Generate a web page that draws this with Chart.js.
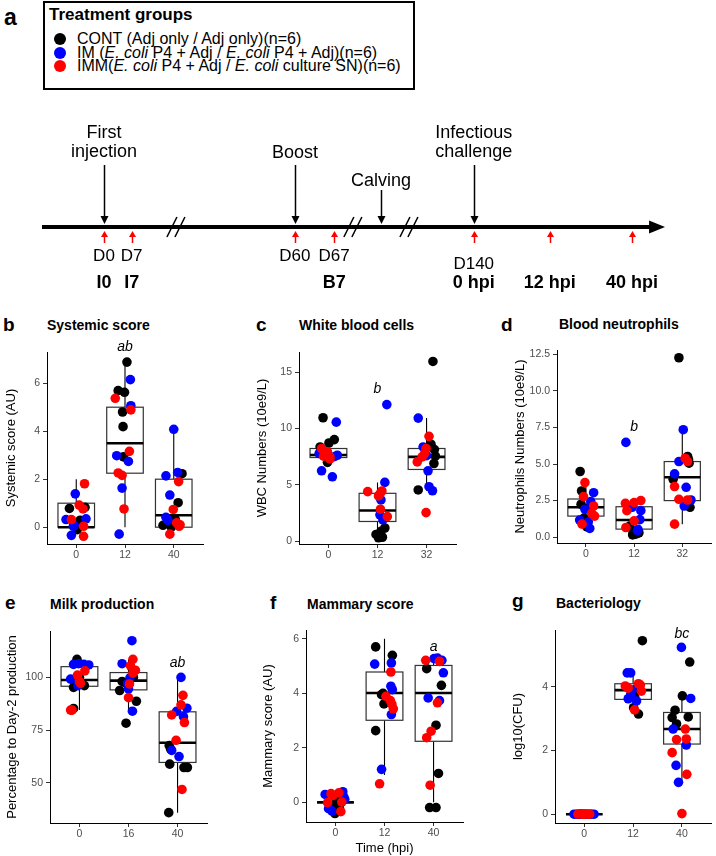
<!DOCTYPE html>
<html><head><meta charset="utf-8">
<script src="https://cdn.jsdelivr.net/npm/chart.js@4.4.1/dist/chart.umd.min.js"></script>
<style>
html,body{margin:0;padding:0;background:#fff;}
body{width:716px;height:856px;position:relative;overflow:hidden;font-family:'Liberation Sans',Arial,sans-serif;}
.t{position:absolute;white-space:nowrap;color:#000;}
canvas{position:absolute;}
.lbox{position:absolute;left:43px;top:1px;width:368px;height:85px;border:2px solid #000;}
.dot{position:absolute;width:12px;height:12px;border-radius:50%;}
</style></head><body>
<div class="lbox"></div>
<script>
// ---------------- DATA ----------------
// Panel a: legend
const groupNames = ['CONT (Adj only / Adj only)(n=6)',
  'IM (<i>E. coli</i> P4 + Adj / <i>E. coli</i> P4 + Adj)(n=6)',
  'IMM(<i>E. coli</i> P4 + Adj / <i>E. coli</i> culture SN)(n=6)'];
const groupColors = ['#000000','#0000ff','#ff0000'];
// Panel a: timeline (schematic positions, 0-100)
const tlAxisX = [0, 97.6];
const tlEventX = [9.95, 40.6, 54.4, 69.3];
const tlEventLabels = [['First','injection'],['Boost'],['Calving'],['Infectious','challenge']];
const tlSampleX = [9.95, 14.4, 40.6, 46.9, 69.3, 81.5, 94.7];
const tlDayLabels = ['D0','D7','D60','D67','D140','',''];
const tlPhaseLabels = ['I0','I7','','B7','0 hpi','12 hpi','40 hpi'];
const tlBreakX = [21.5, 49.9, 58.9];

// Panel b: Systemic score
const sysCats = ['0','12','40'];
const sysTicks = [0,2,4,6];
const sysCont = [[0.86,0.78],[1.18,0.83],[1.08,0.29],[0.95,0.10],[1.02,-0.10],[1.10,0.20],[2.04,6.88],[1.86,5.69],[1.99,5.62],[1.95,4.80],[1.96,4.19],[1.97,2.93],[3.17,2.23],[3.09,1.02],[3.02,0.36],[2.78,0.08],[3.03,0.30],[2.95,0.00]];
const sysIM = [[0.98,1.39],[0.79,0.32],[1.20,0.35],[0.94,0.04],[0.90,-0.34],[0.96,0.08],[2.11,6.15],[2.12,5.06],[1.83,2.98],[2.07,2.74],[1.94,1.63],[1.88,-0.29],[3.00,4.08],[2.84,2.14],[3.08,2.28],[2.92,1.34],[2.84,0.41],[2.88,0.29]];
const sysIMM = [[1.17,1.81],[1.06,0.92],[1.14,0.76],[0.90,0.32],[1.15,0.04],[1.15,-0.38],[1.80,5.37],[2.12,4.89],[2.09,3.16],[1.86,2.26],[1.94,2.16],[1.98,0.76],[3.10,1.90],[2.99,0.74],[3.06,0.18],[3.11,0.04],[2.92,-0.29],[3.13,0.10]];
const sysQ1 = [0, 2.25, 0], sysMed = [0, 3.5, 0.5], sysQ3 = [1, 5, 2], sysLo = [0, 0, 0], sysHi = [2, 7, 4];
const sysSig = ['', 'ab', ''], sysSigY = 7.34;

// Panel c: White blood cells
const wbcCats = ['0','12','32'];
const wbcTicks = [0,5,10,15];
const wbcCont = [[0.89,10.96],[1.12,9.02],[1.01,8.72],[0.83,8.37],[0.99,7.28],[0.98,7.0],[2.15,1.17],[2.07,0.87],[2.01,0.49],[2.02,0.30],[1.97,0.60],[2.10,0.35],[3.13,15.96],[3.09,8.61],[3.16,8.14],[3.18,7.55],[3.15,6.90],[2.83,4.55]];
const wbcIM = [[1.16,10.57],[0.81,7.78],[1.18,7.63],[0.86,6.25],[1.08,5.72],[1.12,7.5],[2.19,12.13],[2.15,5.22],[2.07,3.66],[2.05,2.34],[2.13,2.05],[2.11,1.9],[2.83,10.93],[2.93,8.37],[3.03,6.25],[3.05,4.84],[3.12,4.48],[3.0,7.6]];
const wbcIMM = [[0.86,8.23],[0.98,7.93],[0.90,7.55],[1.03,7.49],[0.93,7.7],[1.03,7.3],[1.80,4.40],[2.09,4.46],[2.05,4.19],[2.02,4.02],[2.06,2.84],[2.20,2.19],[3.05,9.31],[2.99,8.23],[2.96,7.78],[2.91,7.49],[2.81,7.04],[2.99,2.54]];
const wbcQ1 = [7.43, 1.75, 6.37], wbcMed = [7.66, 2.72, 7.49], wbcQ3 = [8.23, 4.25, 8.23], wbcLo = [6.6, 0.3, 4.48], wbcHi = [9.0, 5.22, 10.93];
const wbcSig = ['', 'b', ''], wbcSigY = 13.2;

// Panel d: Blood neutrophils
const neuCats = ['0','12','32'];
const neuTicks = [0,2.5,5,7.5,10,12.5];
const neuCont = [[0.88,4.49],[0.91,3.16],[0.90,2.25],[1.05,2.0],[0.96,1.3],[1.02,0.7],[1.91,0.76],[1.98,0.36],[2.06,0.25],[1.97,0.15],[2.03,0.2],[2.1,0.3],[2.93,12.27],[3.11,5.52],[3.14,5.06],[2.81,3.96],[3.16,2.04],[3.13,5.3]];
const neuIM = [[1.16,3.04],[1.10,2.43],[0.98,1.90],[0.87,1.17],[1.05,1.05],[1.08,0.60],[1.83,6.48],[1.96,2.04],[2.14,1.81],[2.08,0.53],[2.12,1.2],[2.07,0.45],[3.02,7.35],[2.93,5.17],[2.84,4.33],[3.08,3.41],[3.18,2.54],[3.04,2.13]];
const neuIMM = [[0.98,3.73],[0.95,2.77],[1.16,2.13],[1.12,1.63],[1.18,1.44],[0.92,0.89],[1.82,2.31],[2.0,2.36],[2.14,2.5],[1.85,1.81],[2.0,1.12],[1.83,0.66],[3.06,5.4],[3.11,5.17],[2.84,3.46],[2.93,2.59],[3.11,2.54],[2.84,0.89]];
const neuQ1 = [1.44, 0.55, 2.5], neuMed = [2.04, 1.17, 4.1], neuQ3 = [2.61, 2.08, 5.17], neuLo = [0.6, 0.15, 0.89], neuHi = [3.73, 2.5, 7.35];
const neuSig = ['', 'b', ''], neuSigY = 7.23;

// Panel e: Milk production
const milkCats = ['0','16','40'];
const milkTicks = [50,75,100];
const milkCont = [[0.95,108.6],[0.88,95.3],[1.10,96.1],[0.88,85.3],[1.0,100],[0.95,97],[1.87,98.1],[1.82,93.8],[2.16,88.7],[1.95,78.3],[1.93,97.5],[2.1,100],[2.83,67.7],[2.84,58.9],[3.13,57.3],[3.20,57.3],[2.82,35.9],[2.86,66]];
const milkIM = [[0.88,106.2],[0.98,106.5],[1.09,106.2],[1.19,105.9],[0.82,99.2],[0.97,96.1],[2.07,117.4],[1.87,106.5],[2.0,94.6],[2.08,84.0],[2.03,99.8],[1.98,97],[3.07,100],[3.19,85.4],[2.98,83.9],[3.12,81.4],[2.88,65.4],[3.03,62.5]];
const milkIMM = [[1.11,103.1],[0.96,101.1],[1.0,98.1],[1.02,97.2],[0.85,84.5],[0.82,84.5],[2.09,108.6],[2.04,105.5],[2.14,103.4],[2.09,102.0],[2.02,96.9],[2.0,90.4],[3.11,91.5],[3.07,87.0],[2.88,82.2],[3.14,78.6],[2.97,70.2],[3.09,46.9]];
const milkQ1 = [95.8, 94.1, 59.7], milkMed = [98.8, 98.5, 69], milkQ3 = [105.1, 102.3, 83.7], milkLo = [84.5, 84, 35.9], milkHi = [108.6, 108.6, 100];
const milkSig = ['', '', 'ab'], milkSigY = 105;

// Panel f: Mammary score
const mamCats = ['0','12','40'];
const mamTicks = [0,2,4,6];
const mamCont = [[1.01,0.15],[0.99,-0.41],[1.05,0.05],[0.97,-0.1],[1.0,0.2],[1.08,-0.2],[1.82,5.70],[2.16,5.39],[1.94,3.95],[1.99,3.61],[1.82,2.63],[1.97,4.0],[2.86,4.9],[3.16,4.29],[3.05,2.83],[3.10,1.06],[2.92,-0.19],[3.05,-0.19]];
const mamIM = [[0.79,0.29],[1.15,0.39],[1.19,0.11],[0.86,-0.23],[0.93,-0.32],[1.17,0.2],[1.80,5.07],[2.14,5.11],[2.13,4.26],[2.16,4.13],[2.14,3.22],[1.94,1.21],[3.01,5.27],[3.08,5.29],[3.17,5.21],[3.20,4.75],[2.89,3.83],[3.12,3.73]];
const mamIMM = [[0.91,0.32],[1.07,0.35],[0.84,-0.01],[1.13,0.01],[1.11,-0.34],[0.95,0.25],[2.13,4.78],[2.03,3.89],[2.12,3.73],[2.18,3.43],[1.90,0.68],[2.15,3.6],[2.84,5.21],[3.12,5.17],[3.08,3.65],[2.95,2.61],[2.86,2.37],[2.93,0.63]];
const mamQ1 = [0, 3.01, 2.24], mamMed = [0, 4.01, 4.01], mamQ3 = [0, 4.78, 5.02], mamLo = [0, 1.0, 0], mamHi = [0, 6, 5.25];
const mamSig = ['', '', 'a'], mamSigY = 5.54;

// Panel g: Bacteriology
const bacCats = ['0','12','40'];
const bacTicks = [0,2,4];
const bacCont = [[0.88,0],[0.93,0],[1.0,0],[1.06,0],[1.12,0],[0.96,0],[2.19,5.44],[2.03,3.7],[2.01,3.34],[2.11,3.14],[2.0,3.8],[2.08,3.95],[3.16,4.77],[3.01,3.71],[2.86,3.26],[2.80,3.03],[3.13,3.05],[2.89,2.83]];
const bacIM = [[0.79,0],[0.84,0],[0.91,0],[1.2,0],[1.15,0],[1.03,0],[1.88,4.43],[1.95,4.43],[1.98,3.89],[1.90,3.62],[2.07,3.55],[1.95,3.75],[2.99,5.23],[3.18,3.63],[2.82,2.67],[3.09,2.17],[2.88,1.53],[2.93,1.0]];
const bacIMM = [[0.87,0],[0.95,0],[0.99,0],[1.07,0],[1.11,0],[1.0,0],[1.84,4.02],[2.11,4.09],[2.17,3.86],[2.03,3.27],[1.9,3.95],[2.15,4.05],[3.07,2.67],[2.89,2.34],[3.09,2.36],[2.80,1.93],[3.0,0.02],[3.1,1.25]];
const bacQ1 = [0, 3.6, 2.2], bacMed = [0, 3.89, 2.67], bacQ3 = [0, 4.09, 3.19], bacLo = [0, 3.14, 1.0], bacHi = [0, 4.43, 3.71];
const bacSig = ['', '', 'bc'], bacSigY = 5.52;

// ---------------- RENDERING ----------------
const FONT = "'Liberation Sans', Arial, sans-serif";
Chart.defaults.font.family = FONT;

function txt(s, x, base, size, o) {
  o = o || {};
  const d = document.createElement('div');
  d.className = 't';
  d.innerHTML = s;
  d.style.fontSize = size + 'px';
  d.style.lineHeight = size + 'px';
  d.style.top = (base - 0.8465 * size) + 'px';
  d.style.left = x + 'px';
  if (o.bold) d.style.fontWeight = 'bold';
  if (o.italic) d.style.fontStyle = 'italic';
  if (o.center) d.style.transform = 'translateX(-50%)';
  document.body.appendChild(d);
  return d;
}
function mk(x, y, w, h) {
  const c = document.createElement('canvas');
  c.width = w; c.height = h;
  c.style.left = x + 'px'; c.style.top = y + 'px';
  c.style.width = w + 'px'; c.style.height = h + 'px';
  document.body.appendChild(c);
  return c;
}

// Legend box of panel a
txt('a', 4, 25, 23, {bold: true});
txt('Treatment groups', 49, 20.7, 17, {bold: true});
const legendBase = [45, 58.3, 71.7];
groupNames.forEach((g, i) => {
  const d = document.createElement('div');
  d.className = 'dot';
  d.style.background = groupColors[i];
  d.style.left = '54px';
  d.style.top = (legendBase[i] - 5.7 - 6) + 'px';
  document.body.appendChild(d);
  txt(g, 77, legendBase[i], 16);
});

// Timeline
const TL_LEFT = 0, TL_TOP = 100;
const tlEventTextBase = [-88.7, -68.7, -41, -88.7];
const tlEventArrowTop = [-62, -62, -37, -62];
const tlDayBase = [34.7, 34.7, 34.7, 34.7, 42, 34.7, 34.7];
const tlPhaseBase = 61;

function arrow(ctx, x, yFrom, yTo, color, lw, hl, hw) {
  ctx.strokeStyle = color; ctx.fillStyle = color; ctx.lineWidth = lw;
  const dir = yTo > yFrom ? 1 : -1;
  ctx.beginPath(); ctx.moveTo(x, yFrom); ctx.lineTo(x, yTo - dir * hl * 0.8); ctx.stroke();
  ctx.beginPath(); ctx.moveTo(x, yTo); ctx.lineTo(x - hw, yTo - dir * hl); ctx.lineTo(x + hw, yTo - dir * hl); ctx.closePath(); ctx.fill();
}

const timelinePlugin = {
  id: 'timeline',
  afterDatasetsDraw(chart) {
    const ctx = chart.ctx, xs = chart.scales.x, ys = chart.scales.y;
    const y0 = ys.getPixelForValue(0);
    ctx.save();
    ctx.fillStyle = '#000';
    ctx.beginPath();
    ctx.moveTo(xs.getPixelForValue(100), y0);
    ctx.lineTo(xs.getPixelForValue(tlAxisX[1]) - 1, y0 - 6.5);
    ctx.lineTo(xs.getPixelForValue(tlAxisX[1]) - 1, y0 + 6.5);
    ctx.closePath(); ctx.fill();
    ctx.strokeStyle = '#000'; ctx.lineWidth = 1.5;
    tlBreakX.forEach(b => {
      const c = xs.getPixelForValue(b);
      [-4, 4].forEach(dx => {
        ctx.beginPath(); ctx.moveTo(c + dx - 5, y0 + 10); ctx.lineTo(c + dx + 5, y0 - 10); ctx.stroke();
      });
    });
    tlEventX.forEach((v, i) => {
      arrow(ctx, Math.round(xs.getPixelForValue(v)) + 0.5, y0 + tlEventArrowTop[i], y0 - 3, '#000', 1.5, 8, 4);
    });
    tlSampleX.forEach(v => {
      arrow(ctx, Math.round(xs.getPixelForValue(v)) + 0.5, y0 + 16, y0 + 4, '#ff0000', 1.5, 6, 3.5);
    });
    ctx.restore();
  },
  afterRender(chart) {
    if (chart.$txtDone) return;
    chart.$txtDone = true;
    const xs = chart.scales.x, ys = chart.scales.y;
    const y0 = TL_TOP + ys.getPixelForValue(0);
    const px = v => TL_LEFT + xs.getPixelForValue(v);
    tlEventX.forEach((v, i) => {
      tlEventLabels[i].forEach((line, j) => {
        txt(line, px(v), y0 + tlEventTextBase[i] + j * 18.7, 18, {center: true});
      });
    });
    tlSampleX.forEach((v, i) => {
      if (tlDayLabels[i]) txt(tlDayLabels[i], px(v), y0 + tlDayBase[i], 17, {center: true});
      if (tlPhaseLabels[i]) txt(tlPhaseLabels[i], px(v), y0 + tlPhaseBase, 18, {center: true, bold: true});
    });
  }
};

new Chart(mk(TL_LEFT, TL_TOP, 716, 210), {
  type: 'scatter',
  data: {datasets: [{type: 'line', data: tlAxisX.map(x => ({x, y: 0})), borderColor: '#000', borderWidth: 4, pointRadius: 0, clip: false}]},
  options: {
    responsive: false, animation: false, events: [], devicePixelRatio: 1,
    layout: {padding: {left: 42, right: 51, top: 44, bottom: 0}},
    scales: {x: {type: 'linear', min: 0, max: 100, display: false}, y: {min: -1, max: 1, display: false}},
    plugins: {legend: {display: false}, tooltip: {enabled: false}}
  },
  plugins: [timelinePlugin]
});

// Box plot panels
function boxPlugin(cfg) {
  return {
    id: 'boxes',
    beforeDatasetsDraw(chart) {
      const ctx = chart.ctx, xs = chart.scales.x, ys = chart.scales.y;
      ctx.save();
      for (let i = 0; i < cfg.med.length; i++) {
        const c = xs.getPixelForValue(i + 1);
        const hw = xs.getPixelForValue(i + 1.375) - c;
        const yq1 = ys.getPixelForValue(cfg.q1[i]), yq3 = ys.getPixelForValue(cfg.q3[i]);
        const ym = ys.getPixelForValue(cfg.med[i]);
        const ylo = ys.getPixelForValue(cfg.lo[i]), yhi = ys.getPixelForValue(cfg.hi[i]);
        ctx.strokeStyle = '#000'; ctx.lineWidth = 1.1;
        ctx.beginPath(); ctx.moveTo(c, yq3); ctx.lineTo(c, yhi); ctx.moveTo(c, yq1); ctx.lineTo(c, ylo); ctx.stroke();
        ctx.fillStyle = '#fff'; ctx.fillRect(c - hw, yq3, 2 * hw, yq1 - yq3);
        ctx.strokeStyle = '#333'; ctx.lineWidth = 1.2;
        ctx.strokeRect(c - hw, yq3, 2 * hw, yq1 - yq3);
        ctx.strokeStyle = '#000'; ctx.lineWidth = 2.6;
        ctx.beginPath(); ctx.moveTo(c - hw, ym); ctx.lineTo(c + hw, ym); ctx.stroke();
      }
      ctx.restore();
    },
    afterDatasetsDraw(chart) {
      const ctx = chart.ctx, xs = chart.scales.x, ys = chart.scales.y;
      ctx.save();
      ctx.fillStyle = '#000';
      ctx.font = 'italic 14px ' + FONT;
      ctx.textAlign = 'center'; ctx.textBaseline = 'alphabetic';
      cfg.sig.forEach((s, i) => { if (s) ctx.fillText(s, xs.getPixelForValue(i + 1), ys.getPixelForValue(cfg.sigY)); });
      ctx.restore();
    }
  };
}

function makePanel(cfg) {
  const c = mk(cfg.cx, cfg.cy, cfg.w, cfg.h);
  const pts = a => a.map(p => ({x: p[0], y: p[1]}));
  const ds = [
    {data: pts(cfg.imm), backgroundColor: groupColors[2]},
    {data: pts(cfg.im), backgroundColor: groupColors[1]},
    {data: pts(cfg.cont), backgroundColor: groupColors[0]}
  ].map(d => Object.assign(d, {pointRadius: 4.8, borderWidth: 0, pointBorderWidth: 0, clip: false}));
  const axisCommon = {
    grid: {drawOnChartArea: false, drawTicks: true, tickLength: 4, color: '#333', lineWidth: 1},
    border: {display: true, color: '#000', width: 1}
  };
  new Chart(c, {
    type: 'scatter',
    data: {datasets: ds},
    options: {
      responsive: false, animation: false, events: [], devicePixelRatio: 1,
      layout: {padding: {left: 0, right: cfg.cx + cfg.w - cfg.R, top: cfg.T - cfg.cy, bottom: 0}},
      plugins: {legend: {display: false}, tooltip: {enabled: false}},
      scales: {
        x: Object.assign({
          type: 'linear', min: 0.4, max: 3.6,
          afterBuildTicks: s => { s.ticks = [1, 2, 3].map(v => ({value: v})); },
          afterFit: s => { s.height = cfg.cy + cfg.h - cfg.B; },
          ticks: {callback: (v, i) => cfg.cats[i], color: '#4d4d4d', font: {size: 10.5}, padding: 1, maxRotation: 0, autoSkip: false},
          title: cfg.xTitle ? {display: true, text: cfg.xTitle, color: '#000', font: {size: 13}, padding: {top: 0, bottom: 0}} : {display: false}
        }, axisCommon),
        y: Object.assign({
          type: 'linear', min: cfg.yMin, max: cfg.yMax,
          afterBuildTicks: s => { s.ticks = cfg.yTicks.map(v => ({value: v})); },
          afterFit: s => { s.width = cfg.L - cfg.cx; },
          ticks: {callback: (v, i) => cfg.fmt(cfg.yTicks[i]), color: '#4d4d4d', font: {size: 10.5}, padding: 3, autoSkip: false},
          title: {display: true, text: cfg.yTitle, color: '#000', font: {size: 13}, padding: {top: 4, bottom: 0}}
        }, axisCommon)
      }
    },
    plugins: [boxPlugin(cfg)]
  });
  txt(cfg.letter, cfg.letterX, cfg.letterBase, 19, {bold: true});
  txt(cfg.title, cfg.titleX, cfg.titleBase, 14, {bold: true});
}

const intFmt = v => String(v);
const decFmt = v => v.toFixed(1);

makePanel({letter: 'b', letterX: 3, letterBase: 331.5, title: 'Systemic score', titleX: 47, titleBase: 330,
  cx: 0, cy: 340, w: 240, h: 225, L: 47, R: 203, T: 352, B: 544, yMin: -0.7, yMax: 7.3,
  cats: sysCats, yTicks: sysTicks, fmt: intFmt, yTitle: 'Systemic score (AU)',
  cont: sysCont, im: sysIM, imm: sysIMM, q1: sysQ1, med: sysMed, q3: sysQ3, lo: sysLo, hi: sysHi, sig: sysSig, sigY: sysSigY});
makePanel({letter: 'c', letterX: 256, letterBase: 331.5, title: 'White blood cells', titleX: 299, titleBase: 330,
  cx: 251, cy: 340, w: 240, h: 225, L: 299, R: 456, T: 352, B: 544, yMin: -0.25, yMax: 16.8,
  cats: wbcCats, yTicks: wbcTicks, fmt: intFmt, yTitle: 'WBC Numbers (10e9/L)',
  cont: wbcCont, im: wbcIM, imm: wbcIMM, q1: wbcQ1, med: wbcMed, q3: wbcQ3, lo: wbcLo, hi: wbcHi, sig: wbcSig, sigY: wbcSigY});
makePanel({letter: 'd', letterX: 501, letterBase: 331, title: 'Blood neutrophils', titleX: 559, titleBase: 329,
  cx: 509, cy: 340, w: 207, h: 225, L: 557, R: 715, T: 350, B: 543, yMin: -0.4, yMax: 12.8,
  cats: neuCats, yTicks: neuTicks, fmt: decFmt, yTitle: 'Neutrophils Numbers (10e9/L)',
  cont: neuCont, im: neuIM, imm: neuIMM, q1: neuQ1, med: neuMed, q3: neuQ3, lo: neuLo, hi: neuHi, sig: neuSig, sigY: neuSigY});
makePanel({letter: 'e', letterX: 5, letterBase: 609, title: 'Milk production', titleX: 50, titleBase: 609,
  cx: 1, cy: 620, w: 239, h: 236, L: 50, R: 207, T: 631, B: 823, yMin: 31, yMax: 122,
  cats: milkCats, yTicks: milkTicks, fmt: intFmt, yTitle: 'Percentage to Day-2 production',
  cont: milkCont, im: milkIM, imm: milkIMM, q1: milkQ1, med: milkMed, q3: milkQ3, lo: milkLo, hi: milkHi, sig: milkSig, sigY: milkSigY});
makePanel({letter: 'f', letterX: 270, letterBase: 609, title: 'Mammary score', titleX: 307, titleBase: 608.5,
  cx: 257, cy: 620, w: 230, h: 236, L: 306, R: 463, T: 630, B: 822, yMin: -0.72, yMax: 6.32,
  cats: mamCats, yTicks: mamTicks, fmt: intFmt, yTitle: 'Mammary score (AU)', xTitle: 'Time (hpi)',
  cont: mamCont, im: mamIM, imm: mamIMM, q1: mamQ1, med: mamMed, q3: mamQ3, lo: mamLo, hi: mamHi, sig: mamSig, sigY: mamSigY});
makePanel({letter: 'g', letterX: 512, letterBase: 607, title: 'Bacteriology', titleX: 556, titleBase: 608,
  cx: 507, cy: 620, w: 209, h: 236, L: 555, R: 713, T: 630, B: 823, yMin: -0.275, yMax: 5.775,
  cats: bacCats, yTicks: bacTicks, fmt: intFmt, yTitle: 'log10(CFU)',
  cont: bacCont, im: bacIM, imm: bacIMM, q1: bacQ1, med: bacMed, q3: bacQ3, lo: bacLo, hi: bacHi, sig: bacSig, sigY: bacSigY});
</script>
</body></html>
